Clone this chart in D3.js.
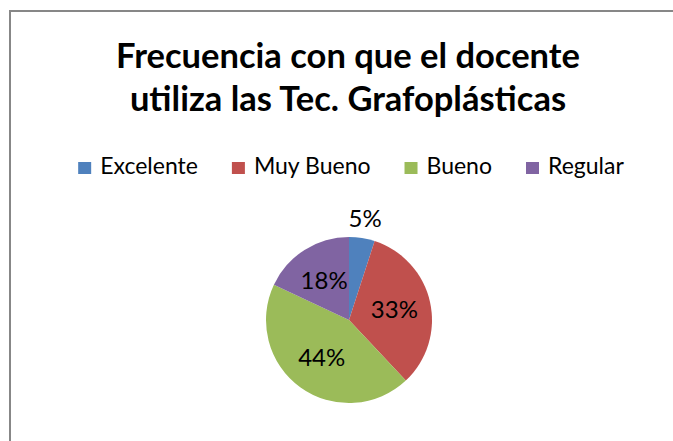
<!DOCTYPE html>
<meta charset="utf-8">

<head>
  <title>Frecuencia con que el docente utiliza las Tec. Grafoplásticas</title>
</head>

<style>
  body { margin: 0; background: #fff; overflow: hidden; }
  svg { display: block; }
  text { font-family: Lato, "Open Sans", sans-serif; fill: #000; }
</style>

<body>
  <svg width="673" height="441"></svg>

  <script src="https://cdn.jsdelivr.net/npm/d3@7"></script>
  <script>
    // data (percent of answers)
    var categories = ['Excelente', 'Muy Bueno', 'Bueno', 'Regular'];
    var values = [5, 33, 44, 18];
    var colors = ['#4F81BD', '#C0504D', '#9BBB59', '#8064A2'];
    var titleLines = ['Frecuencia con que el docente', 'utiliza las Tec. Grafoplásticas'];

    var svg = d3.select('svg');

    // chart frame: only top and left edges are in view
    svg.append('path')
      .attr('d', 'M10,441V11H673')
      .attr('fill', 'none')
      .attr('stroke', '#878787')
      .attr('stroke-width', 2);

    // title
    svg.append('g')
      .selectAll('text')
      .data(titleLines)
      .enter()
      .append('text')
      .attr('x', 348)
      .attr('y', (d, i) => 68 + i * 43)
      .attr('text-anchor', 'middle')
      .attr('font-size', 34.5)
      .attr('font-weight', 'bold')
      .text(d => d);

    // legend, laid out from measured text widths
    var legend = svg.append('g');
    var items = legend.selectAll('g')
      .data(categories)
      .enter()
      .append('g');
    items.append('rect')
      .attr('y', 162)
      .attr('width', 13)
      .attr('height', 12)
      .attr('fill', (d, i) => colors[i]);
    items.append('text')
      .attr('x', 22)
      .attr('y', 174)
      .attr('font-size', 23)
      .text(d => d);
    var gap = 34;
    var xPos = 0;
    items.each(function () {
      var w = d3.select(this).select('text').node().getComputedTextLength();
      d3.select(this).attr('transform', 'translate(' + xPos + ',0)');
      xPos += 22 + w + gap;
    });
    var legendWidth = xPos - gap;
    legend.attr('transform', 'translate(' + (351 - legendWidth / 2) + ',0)');

    // pie
    var cx = 349, cy = 320, radius = 83;
    var total = d3.sum(values);
    var pie = d3.pie().sort(null).value(d => d);
    var arcs = pie(values);
    var arc = d3.arc().innerRadius(0).outerRadius(radius);
    var inLabel = d3.arc().innerRadius(radius * 0.56).outerRadius(radius * 0.56);
    var outLabel = d3.arc().innerRadius(radius + 20).outerRadius(radius + 20);

    var scene = svg.append('g')
      .attr('transform', 'translate(' + cx + ',' + cy + ')');

    scene.append('g')
      .selectAll('path')
      .data(arcs)
      .enter()
      .append('path')
      .attr('d', arc)
      .attr('fill', (d, i) => colors[i]);

    scene.append('g')
      .selectAll('text')
      .data(arcs)
      .enter()
      .append('text')
      .attr('transform', function (d) {
        var c = (d.value / total < 0.1 ? outLabel : inLabel).centroid(d);
        return 'translate(' + c[0] + ',' + c[1] + ')';
      })
      .attr('text-anchor', 'middle')
      .attr('dy', '0.35em')
      .attr('font-size', 24)
      .text(d => Math.round(d.value / total * 100) + '%');
  </script>
</body>

</html>
